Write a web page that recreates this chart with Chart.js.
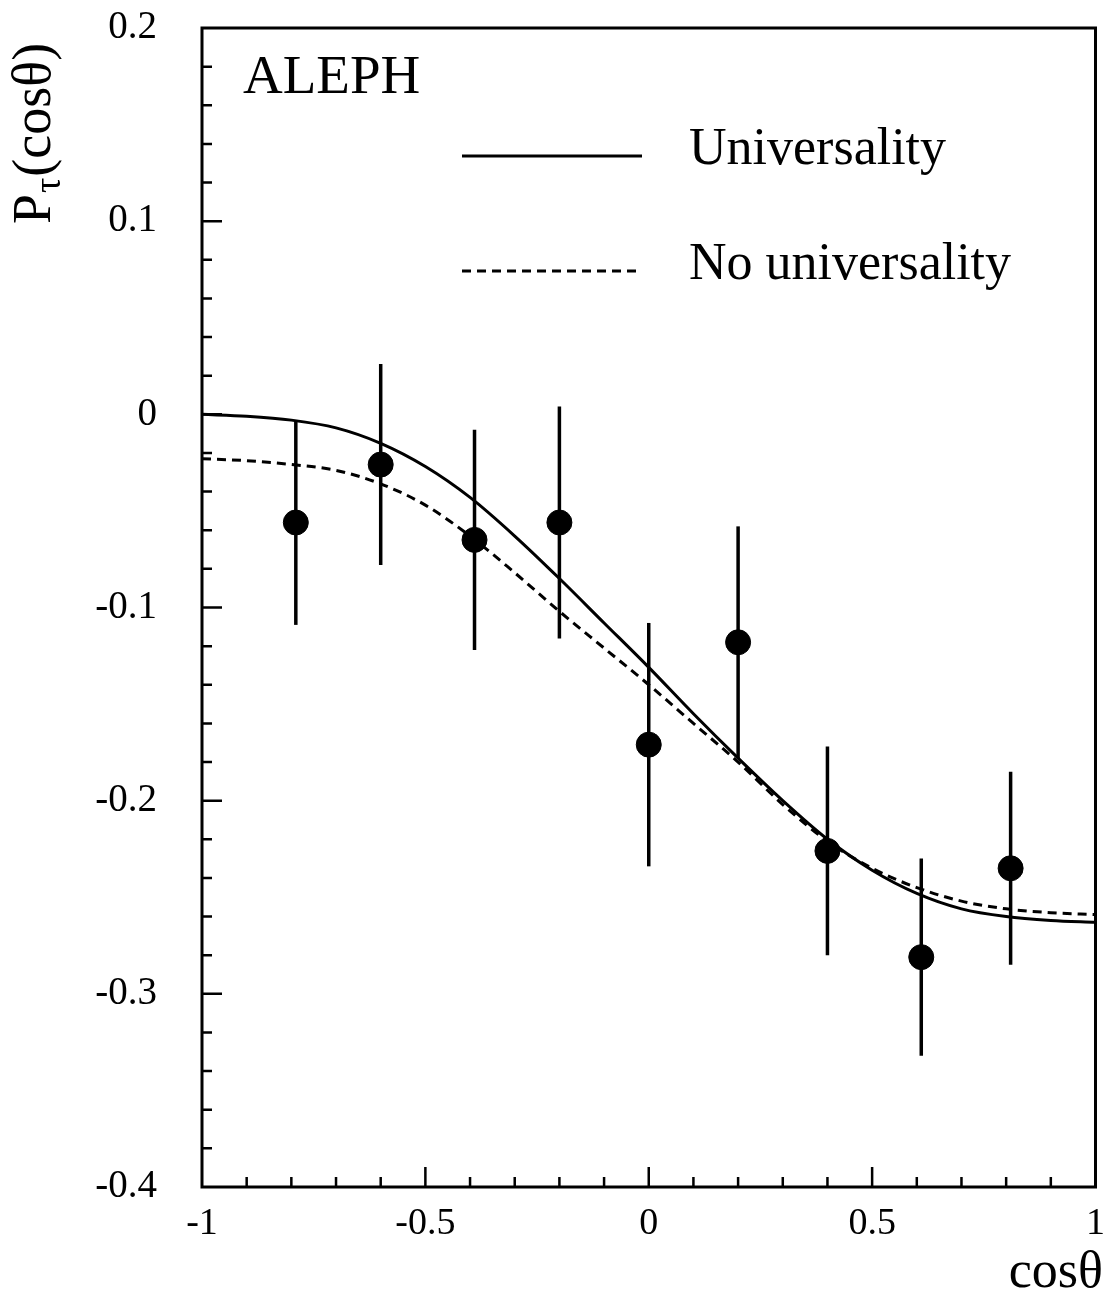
<!DOCTYPE html>
<html>
<head>
<meta charset="utf-8">
<script src="https://cdn.jsdelivr.net/npm/chart.js@4.4.0/dist/chart.umd.min.js"></script>
<style>
  html, body { margin: 0; padding: 0; background: #fff; }
  canvas { display: block; }
</style>
</head>
<body>
<canvas id="polChart" width="1109" height="1294"></canvas>
<script>
// measured tau polarisation per cos(theta) bin
var cosBins = [-0.79, -0.60, -0.39, -0.20, 0.00, 0.20, 0.40, 0.61, 0.81];
var polValues = [-0.056, -0.026, -0.065, -0.056, -0.171, -0.118, -0.226, -0.281, -0.235];
var polErrors = [0.053, 0.052, 0.057, 0.060, 0.063, 0.060, 0.054, 0.051, 0.050];

// fit curves
var curveX = [-1, -0.9, -0.8, -0.7, -0.6, -0.5, -0.4, -0.3, -0.2, -0.1, 0, 0.1, 0.2, 0.3, 0.4, 0.5, 0.6, 0.7, 0.8, 0.9, 1];
var universality = [0.000, -0.001, -0.003, -0.007, -0.015, -0.027, -0.043, -0.063, -0.085, -0.108, -0.131, -0.155, -0.178, -0.200, -0.220, -0.236, -0.248, -0.256, -0.260, -0.262, -0.263];
var noUniversality = [-0.023, -0.024, -0.026, -0.029, -0.036, -0.047, -0.063, -0.082, -0.102, -0.121, -0.140, -0.160, -0.180, -0.202, -0.221, -0.235, -0.245, -0.252, -0.256, -0.258, -0.259];

var xTicks = [-1, -0.5, 0, 0.5, 1];
var yTicks = [0.2, 0.1, 0, -0.1, -0.2, -0.3, -0.4];

var serif = '"Liberation Serif", "Times New Roman", serif';

function pairs(xs, ys) {
    return xs.map(function (x, i) { return { x: x, y: ys[i] }; });
}

function fmt(v) {
    var r = Math.round(v * 10) / 10;
    return r === 0 ? '0' : String(r);
}

function noEdgePadding(s) {
    s.paddingTop = 0;
    s.paddingBottom = 0;
    s.paddingLeft = 0;
    s.paddingRight = 0;
}

var framePlugin = {
    id: 'frame',
    beforeDatasetsDraw: function (chart) {
        // error bars
        var ctx = chart.ctx, xs = chart.scales.x, ys = chart.scales.y;
        ctx.save();
        ctx.strokeStyle = '#000';
        ctx.lineWidth = 3.5;
        cosBins.forEach(function (c, i) {
            var px = xs.getPixelForValue(c);
            ctx.beginPath();
            ctx.moveTo(px, ys.getPixelForValue(polValues[i] + polErrors[i]));
            ctx.lineTo(px, ys.getPixelForValue(polValues[i] - polErrors[i]));
            ctx.stroke();
        });
        ctx.restore();
    },
    afterDraw: function (chart) {
        var ctx = chart.ctx, a = chart.chartArea, xs = chart.scales.x, ys = chart.scales.y;
        var k, v, p, len;
        ctx.save();
        ctx.strokeStyle = '#000';
        ctx.fillStyle = '#000';
        ctx.lineWidth = 3;
        ctx.strokeRect(a.left, a.top, a.right - a.left, a.bottom - a.top);

        // inward ticks
        ctx.lineWidth = 2.5;
        ctx.beginPath();
        for (k = 1; k < 20; k++) {
            v = -1 + k * 0.1;
            p = xs.getPixelForValue(v);
            len = (k % 5 === 0) ? 20 : 10;
            ctx.moveTo(p, a.bottom);
            ctx.lineTo(p, a.bottom - len);
        }
        for (k = 1; k < 30; k++) {
            v = -0.4 + k * 0.02;
            p = ys.getPixelForValue(v);
            len = (k % 5 === 0) ? 20 : 10;
            ctx.moveTo(a.left, p);
            ctx.lineTo(a.left + len, p);
        }
        ctx.stroke();

        // ALEPH tag
        ctx.font = '55px ' + serif;
        ctx.textAlign = 'left';
        ctx.textBaseline = 'alphabetic';
        ctx.fillText('ALEPH', 243, 93);

        // legend
        var ds = chart.data.datasets;
        var rows = [{ y: 156, text: ds[0].label, dash: [] }, { y: 271, text: ds[1].label, dash: ds[1].borderDash }];
        rows.forEach(function (r) {
            ctx.lineWidth = 3;
            ctx.setLineDash(r.dash);
            ctx.beginPath();
            ctx.moveTo(462, r.y);
            ctx.lineTo(642, r.y);
            ctx.stroke();
            ctx.setLineDash([]);
            ctx.font = '52px ' + serif;
            ctx.fillText(r.text, 689, r.y + 8);
        });

        // x title
        ctx.font = '52px ' + serif;
        ctx.textAlign = 'right';
        ctx.fillText('cos\u03B8', 1103, 1287);

        // y title, rotated
        ctx.translate(50, 224);
        ctx.rotate(-Math.PI / 2);
        ctx.textAlign = 'left';
        ctx.font = '54px ' + serif;
        ctx.fillText('P', 0, 0);
        var pw = ctx.measureText('P').width;
        ctx.font = '38px ' + serif;
        ctx.fillText('\u03C4', pw + 1, 10);
        var tw = ctx.measureText('\u03C4').width;
        ctx.font = '54px ' + serif;
        ctx.fillText('(cos\u03B8)', pw + tw + 2, 0);
        ctx.restore();
    }
};

var ctx = document.getElementById('polChart').getContext('2d');
new Chart(ctx, {
    type: 'line',
    data: {
        datasets: [
            {
                label: 'Universality',
                data: pairs(curveX, universality),
                borderColor: '#000',
                borderWidth: 3,
                pointRadius: 0,
                cubicInterpolationMode: 'monotone',
                fill: false
            },
            {
                label: 'No universality',
                data: pairs(curveX, noUniversality),
                borderColor: '#000',
                borderWidth: 3,
                borderDash: [9, 6],
                pointRadius: 0,
                cubicInterpolationMode: 'monotone',
                fill: false
            },
            {
                type: 'scatter',
                label: 'ALEPH data',
                data: pairs(cosBins, polValues),
                backgroundColor: '#000',
                borderColor: '#000',
                pointRadius: 12.5,
                showLine: false
            }
        ]
    },
    options: {
        responsive: false,
        animation: false,
        layout: { padding: { top: 28, right: 9, left: 0, bottom: 0 } },
        plugins: {
            legend: { display: false },
            tooltip: { enabled: false }
        },
        scales: {
            x: {
                type: 'linear',
                min: -1,
                max: 1,
                afterBuildTicks: function (s) { s.ticks = xTicks.map(function (v) { return { value: v }; }); },
                afterFit: function (s) { s.height = 107; noEdgePadding(s); },
                grid: { display: false, drawTicks: false },
                border: { display: false },
                ticks: {
                    font: { family: serif, size: 38 },
                    color: '#000',
                    padding: 14,
                    maxRotation: 0,
                    autoSkip: false,
                    callback: function (v) { return String(v); }
                }
            },
            y: {
                type: 'linear',
                min: -0.4,
                max: 0.2,
                afterBuildTicks: function (s) { s.ticks = yTicks.map(function (v) { return { value: v }; }); },
                afterFit: function (s) { s.width = 202; noEdgePadding(s); },
                grid: { display: false, drawTicks: false },
                border: { display: false },
                ticks: {
                    font: { family: serif, size: 39 },
                    color: '#000',
                    padding: 45,
                    autoSkip: false,
                    callback: fmt
                }
            }
        }
    },
    plugins: [framePlugin]
});
</script>
</body>
</html>
